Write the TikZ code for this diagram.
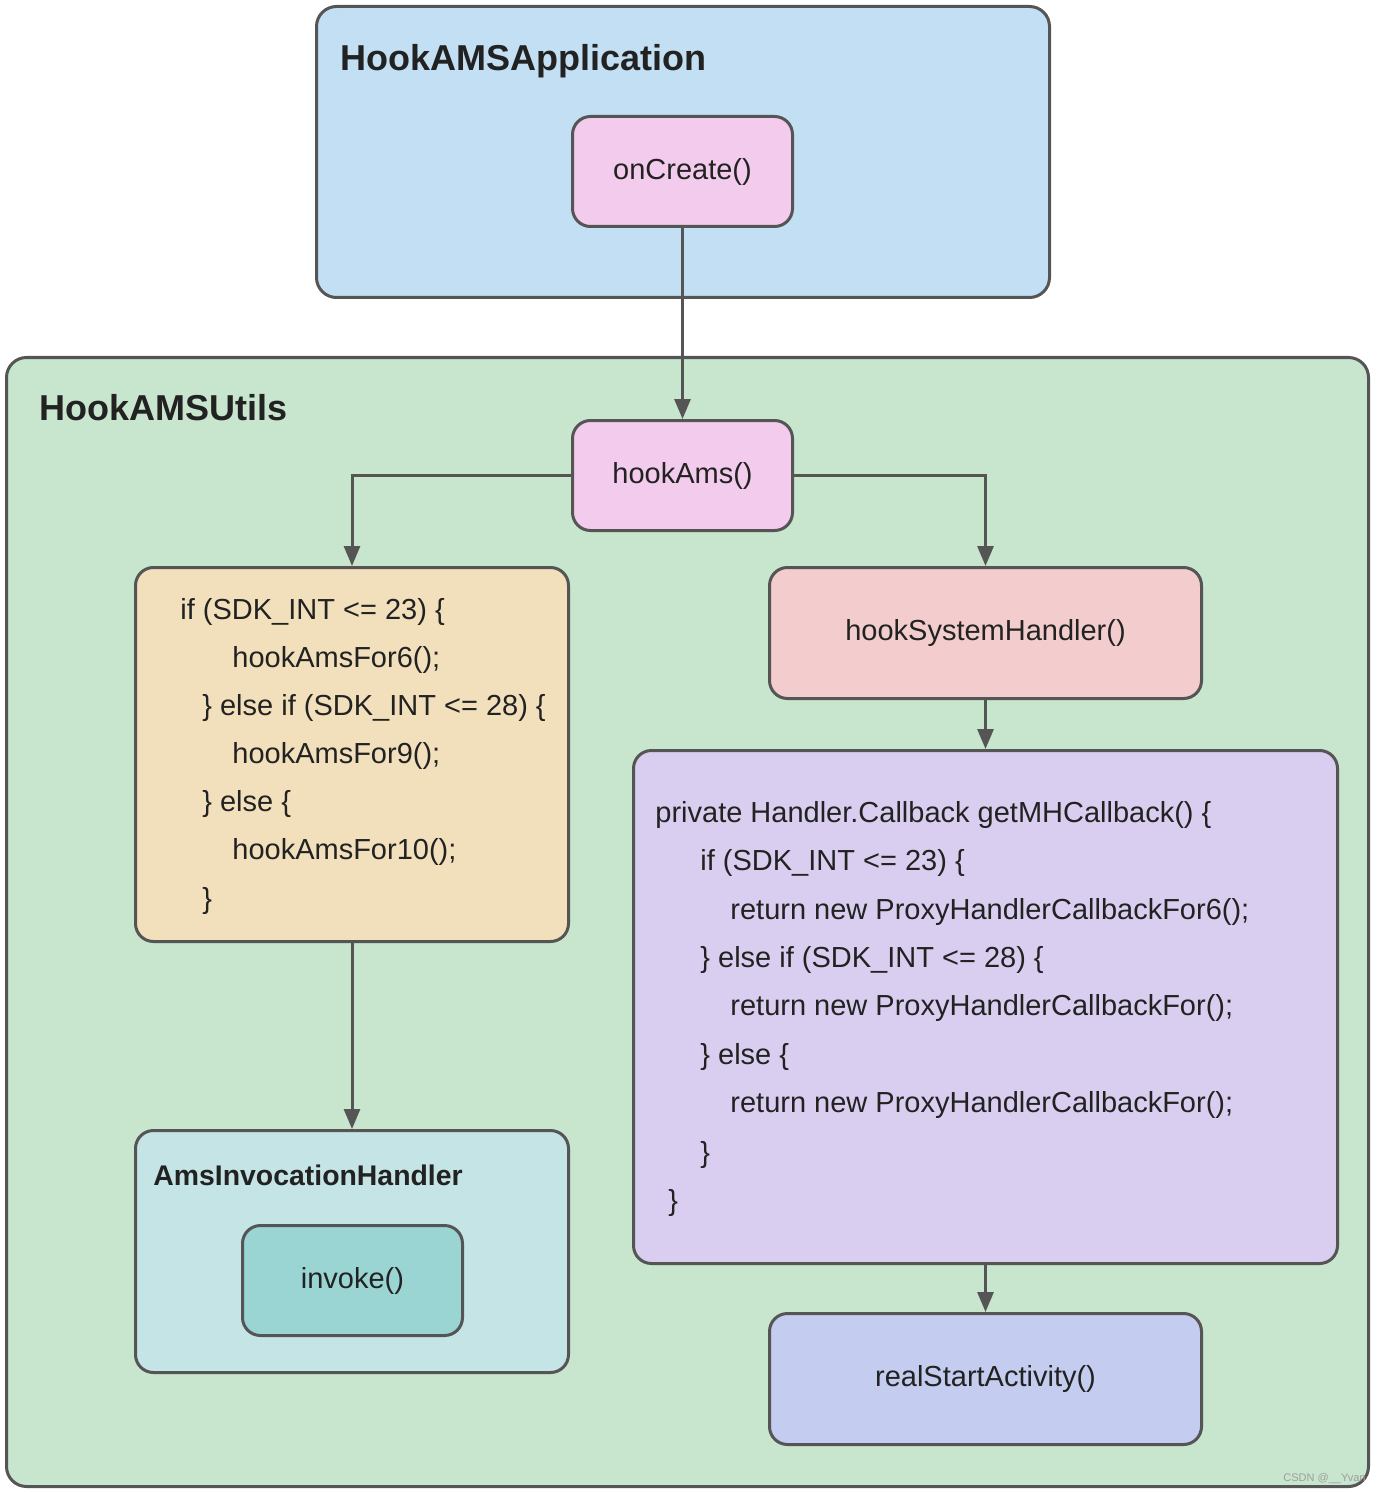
\documentclass[tikz,border=0pt]{standalone}
\usepackage{fontspec}
\setmainfont{Liberation Sans}
\usetikzlibrary{arrows.meta}
\definecolor{edgec}{HTML}{555555}
\definecolor{txt}{HTML}{222222}
\definecolor{blueF}{HTML}{C3DFF3}
\definecolor{pinkF}{HTML}{F3CBEC}
\definecolor{greenF}{HTML}{C8E5CE}
\definecolor{yellowF}{HTML}{F2E0BC}
\definecolor{salmonF}{HTML}{F3CDCD}
\definecolor{purpleF}{HTML}{DACEF0}
\definecolor{periF}{HTML}{C4CDEF}
\definecolor{tealL}{HTML}{C4E4E6}
\definecolor{tealD}{HTML}{9AD5D4}
\tikzset{
  box/.style={draw=edgec, line width=1.5pt, rounded corners=9pt, inner sep=0pt, anchor=north west,
    text=txt, font=\fontsize{14.5}{16}\selectfont},
  ttl/.style={anchor=base west, inner sep=0pt, text=txt, font=\bfseries\fontsize{18}{20}\selectfont},
  subttl/.style={anchor=base west, inner sep=0pt, text=txt, font=\bfseries\fontsize{14.2}{16}\selectfont},
  code/.style={anchor=base west, inner sep=0pt, text=txt, font=\fontsize{14.5}{16}\selectfont},
  conn/.style={draw=edgec, line width=1.5pt, -{Triangle[length=10pt,width=8pt]}}
}
\begin{document}
\begin{tikzpicture}[x=0.5pt,y=-0.5pt]
\useasboundingbox (0,0) rectangle (1378,1492);
% containers
\node[box, fill=blueF, rounded corners=10pt, minimum width=366.5pt, minimum height=145.5pt] (app) at (315,5) {};
\node[ttl] (appT) at (340,71) {HookAMSApplication};
\node[box, fill=pinkF, minimum width=110pt, minimum height=55pt] (oncreate) at (571,115) {onCreate()};

\node[box, fill=greenF, rounded corners=10pt, minimum width=681pt, minimum height=564.5pt] (utils) at (5,356) {};
\node[ttl] (utilsT) at (39,420) {HookAMSUtils};
\node[anchor=base west, inner sep=0pt, text=gray!75, font=\fontsize{5.5}{6}\selectfont] (wm) at (1283,1481) {CSDN @\_\_Yvan};

\node[box, fill=pinkF, minimum width=110pt, minimum height=55pt] (hookams) at (571,419) {hookAms()};
\node[box, fill=yellowF, minimum width=216.5pt, minimum height=187pt] (ybox) at (134,566) {};
\node[box, fill=salmonF, minimum width=216pt, minimum height=65.5pt] (hooksys) at (768,566) {hookSystemHandler()};
\node[box, fill=purpleF, minimum width=352pt, minimum height=256.5pt] (pbox) at (632,749) {};
\node[box, fill=periF, minimum width=216pt, minimum height=65.5pt] (realstart) at (768,1312) {realStartActivity()};
\node[box, fill=tealL, minimum width=216.5pt, minimum height=121pt] (amsinv) at (134,1129) {};
\node[subttl] (amsinvT) at (153,1185) {AmsInvocationHandler};
\node[box, fill=tealD, minimum width=110pt, minimum height=55pt] (invoke) at (241,1224) {invoke()};

% yellow code
\node[code] (y1) at (180,619) {if (SDK\_INT <= 23) \{};
\node[code] (y2) at (232,667) {hookAmsFor6();};
\node[code] (y3) at (202,715) {\} else if (SDK\_INT <= 28) \{};
\node[code] (y4) at (232,763) {hookAmsFor9();};
\node[code] (y5) at (202,811) {\} else \{};
\node[code] (y6) at (232,859) {hookAmsFor10();};
\node[code] (y7) at (202,908) {\}};

% purple code
\node[code] (p1) at (655,822) {private Handler.Callback getMHCallback() \{};
\node[code] (p2) at (700,870) {if (SDK\_INT <= 23) \{};
\node[code] (p3) at (730,919) {return new ProxyHandlerCallbackFor6();};
\node[code] (p4) at (700,967) {\} else if (SDK\_INT <= 28) \{};
\node[code] (p5) at (730,1015) {return new ProxyHandlerCallbackFor();};
\node[code] (p6) at (700,1064) {\} else \{};
\node[code] (p7) at (730,1112) {return new ProxyHandlerCallbackFor();};
\node[code] (p8) at (700,1162) {\}};
\node[code] (p9) at (668,1210) {\}};

% connectors
\draw[conn] (oncreate.south) -- (hookams.north);
\draw[conn] (hookams.west) -| (ybox.north);
\draw[conn] (hookams.east) -| (hooksys.north);
\draw[conn] (hooksys.south) -- (pbox.north);
\draw[conn] (pbox.south) -- (realstart.north);
\draw[conn] (ybox.south) -- (amsinv.north);
\end{tikzpicture}
\end{document}
